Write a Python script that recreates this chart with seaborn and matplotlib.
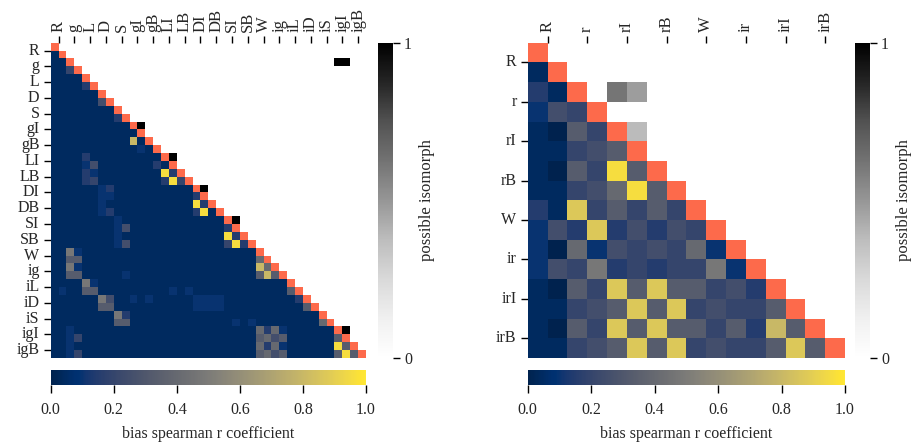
import numpy as np
import matplotlib
matplotlib.use("Agg")
import matplotlib.pyplot as plt
from matplotlib.colors import ListedColormap
import seaborn as sns

sns.set_theme(style="white")
plt.rcParams["font.family"] = ["Liberation Serif", "DejaVu Serif"]
plt.rcParams["font.size"] = 11.5

# ---------------------------------------------------------------- labels
left_labels = ["R", "g", "L", "D", "S", "gI", "gB", "LI", "LB", "DI", "DB",
               "SI", "SB", "W", "ig", "iL", "iD", "iS", "igI", "igB"]
right_labels = ["R", "r", "rI", "rB", "W", "ir", "irI", "irB"]

# level code -> bias spearman r coefficient
level_values = {"0": 0.00, ".": 0.04, "b": 0.10, "n": 0.15, "s": 0.20,
                "t": 0.25, "g": 0.33, "G": 0.40, "h": 0.48, "k": 0.80,
                "K": 0.87, "y": 0.96}

# lower triangle of the left matrix, one string per row (spaces are only for reading)
left_bias_rows = [
    "",
    ".",
    "..",
    "..s",
    "....",
    "....n",
    "......",
    "......t",
    "........",
    "........n",
    "..........",
    ".......... .",
    ".......... k.",
    ".......... .b.",
    "....n..... ....",
    "....bt.... ...n.",
    "....nb.... ....yn",
    "....ns.... ....nys",
    "......bn.. ........",
    "......bb.. ........n",
    "......b... ........yn",
    "......bn.. ........ny .",
    "........b. .......... ..",
    "........bt .......... ..n",
    "........b. .......... ..yn",
    "........bt .......... ..syn",
    "..hb...... .......... ......",
    "..gg...... .......... ......G",
    "..hb...... .......... ......kG",
    "..gg.....b .......... ......gkg",
    "....hb.... .......... ..........",
    ".b..gg.... .....b.b.. .......... g",
    "......ht.. b.b.....bb bb........ .n",
    "......gg.. ........bb bb........ ..g",
    "........hn .......... .......... ....",
    "........gg .......... ...b.b.... ....G",
    "..b....... .......... ......GnGb ......",
    "..bs...... .......... ......gGtg ......g",
    "..b....... .......... ......GnGb ......yg",
    "..bs...... .......... ......gGtg ......gyg",
]

right_bias_rows = [
    "",
    ".",
    "n.",
    "bts",
    ".0gs",
    "..stg",
    ".0gsyg",
    "..stGyg",
    "n.Ksgsgs",
    "btnKntnts",
    "b0GbtstsGb",
    "btshnsnsshb",
    ".0gsKgKggstn",
    "..stgKgKstssg",
    ".0gsKgKggsgnkg",
    "..stgKgKstssgKg",
]

# possible isomorph cells above the diagonal
left_iso_row = [2, 2, 10, 14, 18, 22, 36]
left_iso_col = [36, 37, 11, 15, 19, 23, 37]
left_iso_val = [1.0, 1.0, 1.0, 1.0, 1.0, 1.0, 1.0]

right_iso_row = [2, 2, 4]
right_iso_col = [4, 5, 5]
right_iso_val = [0.62, 0.48, 0.38]


def bias_matrix(rows):
    n = len(rows)
    m = np.full((n, n), np.nan)
    for i, row in enumerate(rows):
        row = row.replace(" ", "")
        assert len(row) == i, (i, len(row))
        for j, ch in enumerate(row):
            m[i, j] = level_values[ch]
    return m


def iso_matrix(n, rr, cc, vv):
    m = np.full((n, n), np.nan)
    for r, c, v in zip(rr, cc, vv):
        m[r, c] = v
    return m


fig = plt.figure(figsize=(9.13, 4.45), dpi=100)
W, H = 913.0, 445.0


def fax(x0, y0, x1, y1):
    return fig.add_axes([x0 / W, 1 - y1 / H, (x1 - x0) / W, (y1 - y0) / H])


diag_cmap = ListedColormap(["#fd6a4b"])


def draw(ax, cax_v, cax_h, bias, iso, labels):
    n = bias.shape[0]
    sns.heatmap(bias, mask=np.isnan(bias), cmap="cividis", vmin=0, vmax=1,
                ax=ax, cbar_ax=cax_h, square=False, linewidths=0,
                cbar_kws={"orientation": "horizontal",
                          "ticks": [0, 0.2, 0.4, 0.6, 0.8, 1.0]})
    sns.heatmap(iso, mask=np.isnan(iso), cmap="Greys", vmin=0, vmax=1,
                ax=ax, cbar_ax=cax_v, linewidths=0,
                cbar_kws={"ticks": [0, 1]})
    diag = np.where(np.eye(n, dtype=bool), 1.0, np.nan)
    sns.heatmap(diag, mask=np.isnan(diag), cmap=diag_cmap, vmin=0, vmax=1,
                ax=ax, cbar=False, linewidths=0)

    pos = np.arange(1, n, 2)
    ax.set_xticks(pos)
    ax.set_xticklabels(labels, rotation=90, fontsize=12)
    ax.set_yticks(pos)
    ax.set_yticklabels(labels, rotation=0, fontsize=11.5)
    ax.xaxis.tick_top()
    ax.tick_params(axis="both", length=5, width=1, color="black",
                   pad=3, top=True, left=True, bottom=False)
    for s in ax.spines.values():
        s.set_visible(False)

    cax_h.set_xticklabels(["0.0", "0.2", "0.4", "0.6", "0.8", "1.0"], fontsize=11.5)
    cax_h.tick_params(axis="x", length=6, width=1, color="black", bottom=True, pad=6)
    cax_h.set_xlabel("bias spearman r coefficient", fontsize=11.5, labelpad=6)

    cax_v.set_yticklabels(["0", "1"], fontsize=11.5)
    cax_v.tick_params(axis="y", length=5, width=1, color="black", right=True, pad=3)
    cax_v.set_ylabel("possible isomorph", fontsize=12, labelpad=5)
    cax_v.yaxis.set_label_position("right")


left_bias = bias_matrix(left_bias_rows)
right_bias = bias_matrix(right_bias_rows)
left_iso = iso_matrix(40, left_iso_row, left_iso_col, left_iso_val)
right_iso = iso_matrix(16, right_iso_row, right_iso_col, right_iso_val)

ax1 = fax(50.7, 42.7, 366.0, 358.0)
cv1 = fax(378.0, 42.7, 393.0, 358.0)
ch1 = fax(50.7, 370.0, 366.0, 385.0)
ax2 = fax(527.7, 42.7, 845.0, 358.0)
cv2 = fax(855.0, 42.7, 870.0, 358.0)
ch2 = fax(527.7, 370.0, 845.0, 385.0)

draw(ax1, cv1, ch1, left_bias, left_iso, left_labels)
draw(ax2, cv2, ch2, right_bias, right_iso, right_labels)

fig.savefig("out.png", dpi=100)
